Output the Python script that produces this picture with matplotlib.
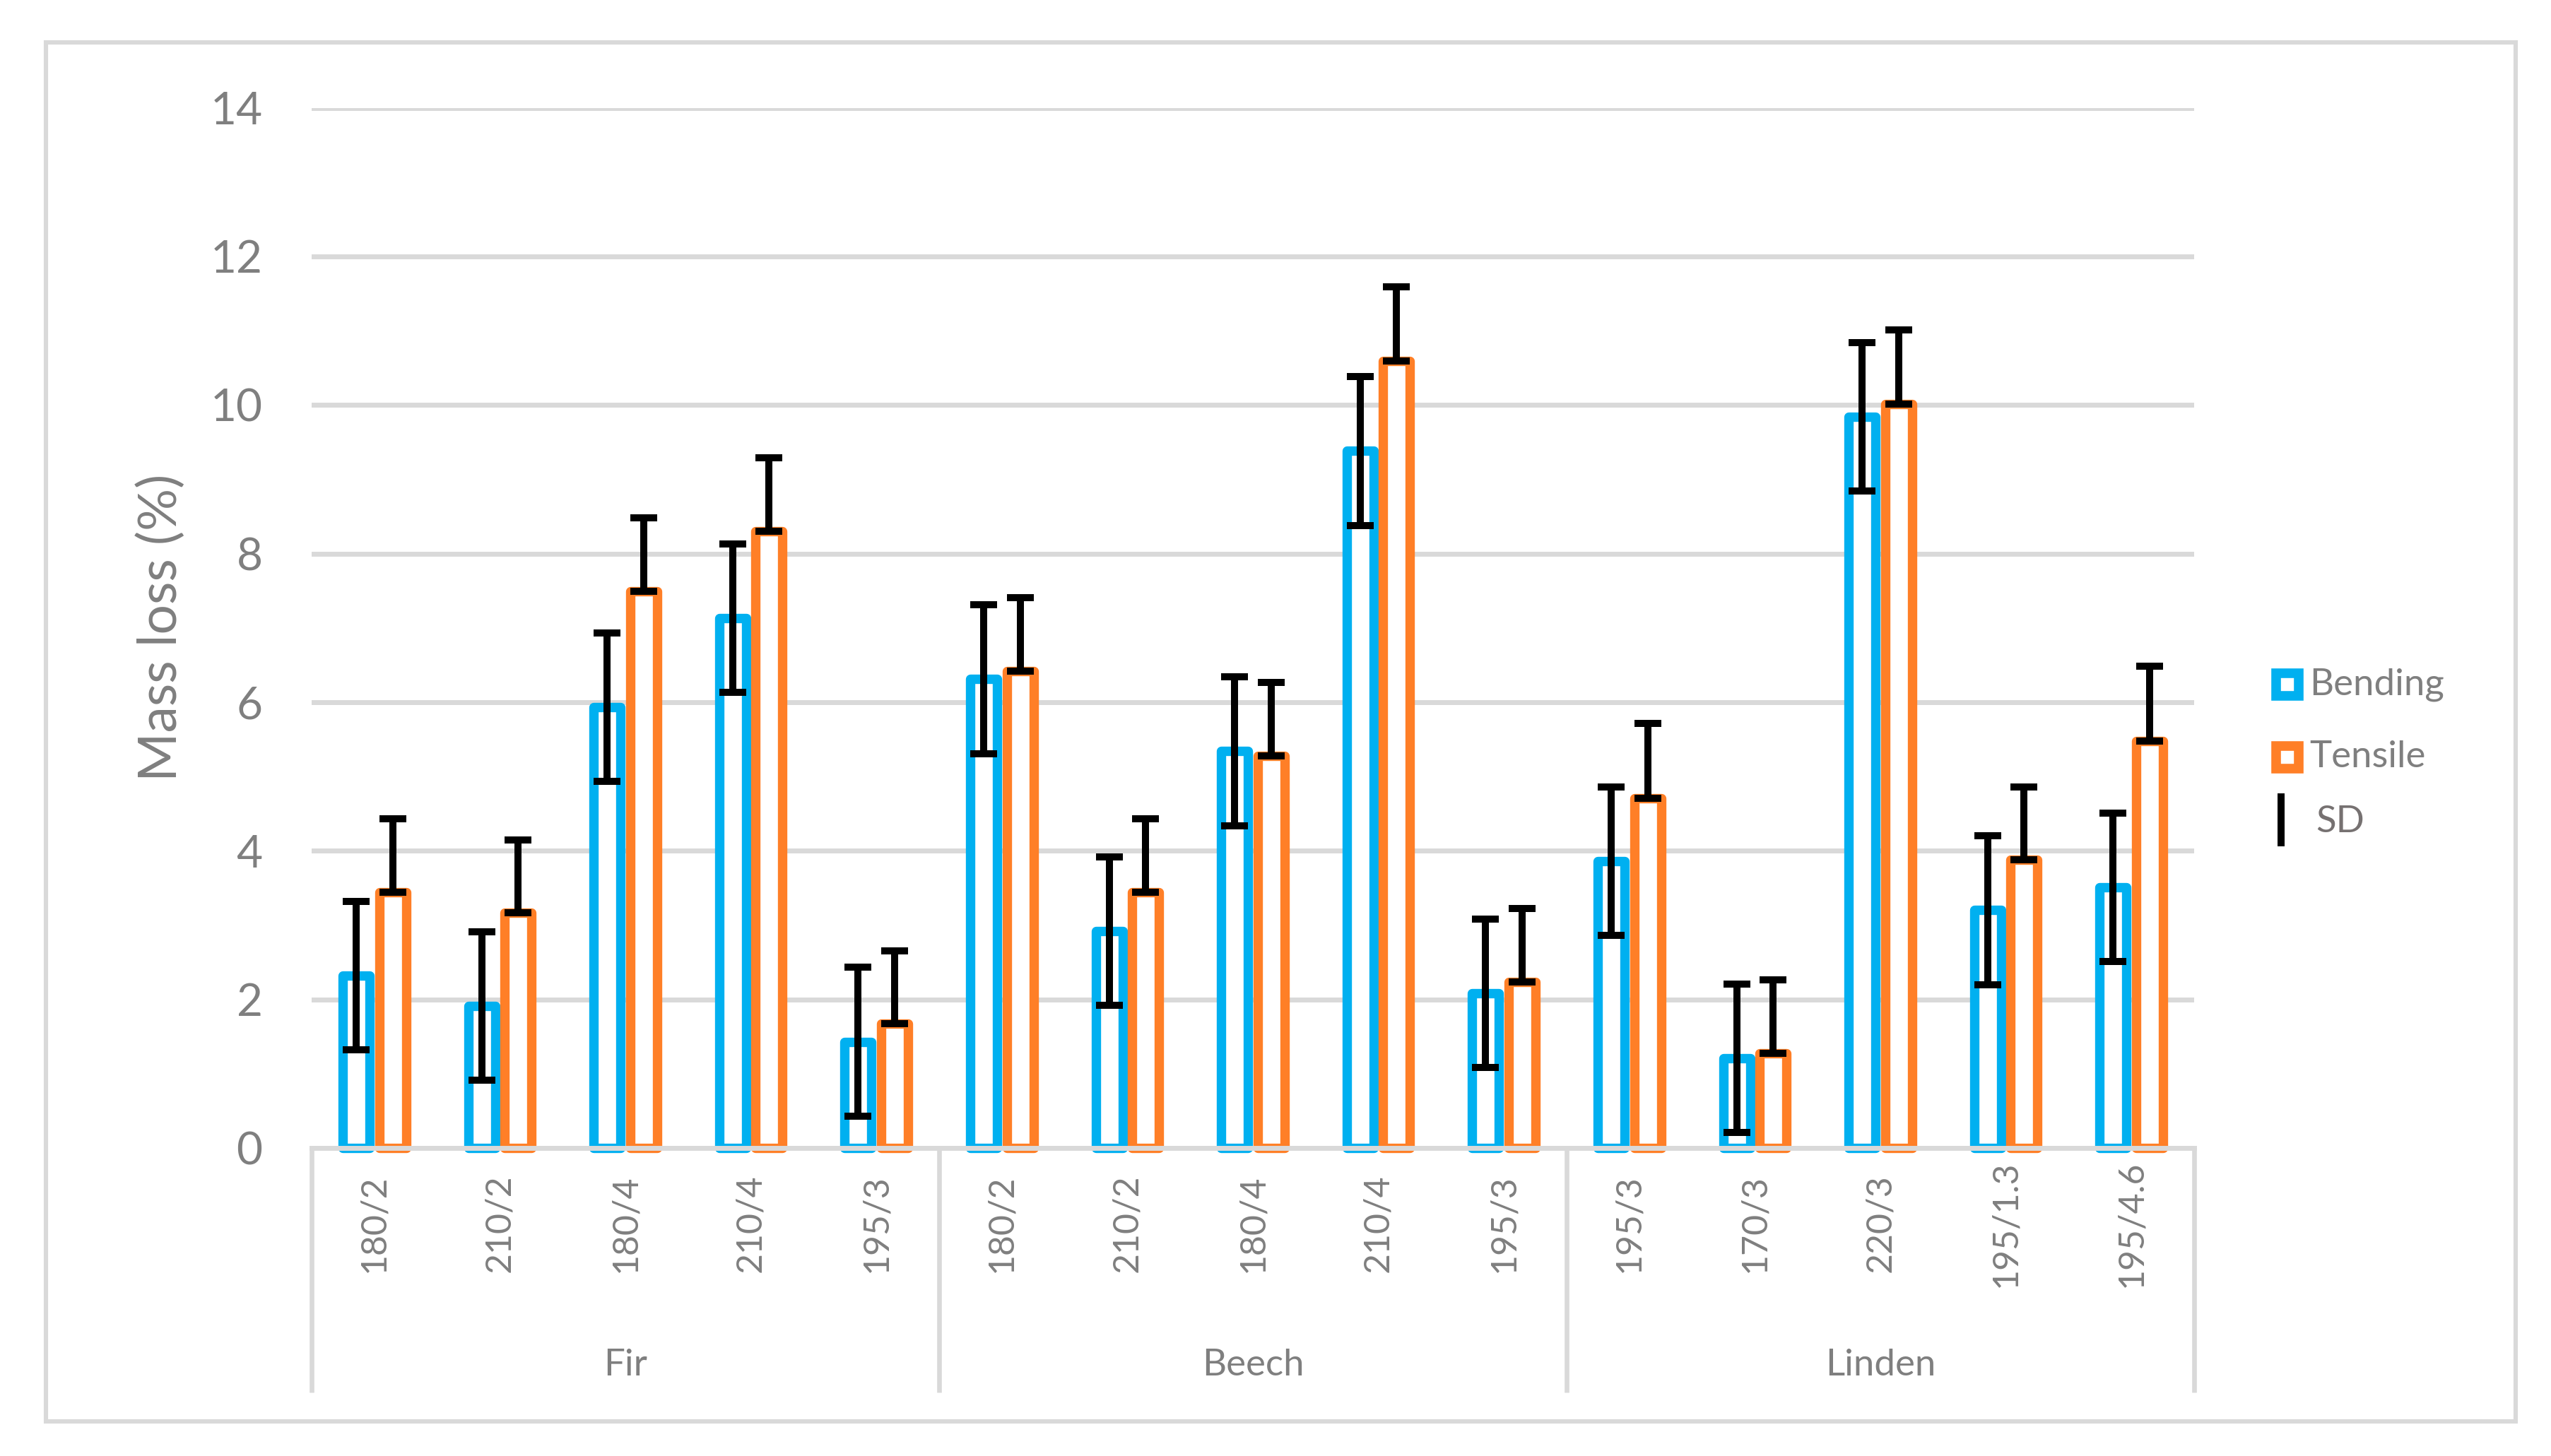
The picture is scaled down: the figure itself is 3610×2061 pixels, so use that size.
import numpy as np
import matplotlib
matplotlib.use("Agg")
import matplotlib.pyplot as plt
from matplotlib.lines import Line2D
from matplotlib.patches import Rectangle

plt.rcParams['font.family'] = ['Lato', 'DejaVu Sans']

groups = ["Fir", "Beech", "Linden"]
group_sizes = [5, 5, 5]
categories = ["180/2", "210/2", "180/4", "210/4", "195/3",
              "180/2", "210/2", "180/4", "210/4", "195/3",
              "195/3", "170/3", "220/3", "195/1.3", "195/4.6"]
bending = [2.32, 1.91, 5.93, 7.13, 1.43,
           6.31, 2.92, 5.34, 9.38, 2.08,
           3.86, 1.21, 9.84, 3.20, 3.51]
tensile = [3.44, 3.17, 7.49, 8.30, 1.67,
           6.42, 3.44, 5.28, 10.59, 2.23,
           4.71, 1.27, 10.01, 3.88, 5.48]
bending_sd = [1.0] * 15
tensile_sd = [0.99, 0.98, 0.99, 0.99, 0.98,
              0.99, 0.99, 0.99, 1.0, 0.99,
              1.0, 0.99, 1.0, 0.98, 1.0]
legend_labels = ["Bending", "Tensile", "SD"]

blue = '#00B0F0'
orange = '#FF7F27'
gray_txt = '#7F7F7F'
grid_c = '#D9D9D9'

W, H = 3610, 2061
fig = plt.figure(figsize=(W / 200, H / 200), dpi=200)
ax = fig.add_axes([441 / W, (H - 1625) / H, 2664 / W, 1472.5 / H])

x = np.arange(len(categories))
off = 0.145
w = 0.214
lw = 4.8

ax.bar(x - off, bending, w, facecolor='white', edgecolor=blue, linewidth=lw,
       joinstyle='round', clip_on=False, zorder=2)
ax.bar(x + off, tensile, w, facecolor='white', edgecolor=orange, linewidth=lw,
       joinstyle='round', clip_on=False, zorder=2)

ax.errorbar(x - off, bending, yerr=bending_sd, fmt='none', ecolor='black',
            elinewidth=3.6, capsize=7.0, capthick=3.6, zorder=4)
ax.errorbar(x + off, tensile, yerr=[[0] * 15, tensile_sd], fmt='none', ecolor='black',
            elinewidth=3.6, capsize=7.0, capthick=3.6, zorder=4)

ax.set_xlim(-0.5, len(categories) - 0.5)
ax.set_ylim(0, 14)
ax.set_yticks(np.arange(0, 15, 2))
ax.yaxis.grid(True, color=grid_c, linewidth=2.5)
ax.set_axisbelow(True)
ax.tick_params(axis='y', length=0, pad=25, labelsize=23, labelcolor=gray_txt)
ax.set_xticks([])
for s in ['top', 'right', 'left', 'bottom']:
    ax.spines[s].set_visible(False)
ax.axhline(0, color=grid_c, linewidth=2.5, zorder=3, clip_on=False)

trans = ax.get_xaxis_transform()
for i, c in enumerate(categories):
    ax.text(i, -0.0727, c, rotation=90, ha='center', va='center',
            fontsize=18, color=gray_txt, transform=trans)

start = 0
edges = [-0.5]
for g, n in zip(groups, group_sizes):
    ax.text(start + (n - 1) / 2, -0.2186, g, ha='center', va='baseline',
            fontsize=19, color=gray_txt, transform=trans)
    start += n
    edges.append(start - 0.5)
for e in edges:
    ax.plot([e, e], [0, -0.235], color=grid_c, linewidth=2.4,
            transform=trans, clip_on=False, solid_capstyle='butt')

ax.text(-0.080, 0.5, "Mass loss (%)", rotation=90, ha='center', va='center',
        fontsize=27, color=gray_txt, transform=ax.transAxes)

# legend, placed by hand
leg_y = [969, 1072, 1160]
fig.add_artist(Line2D([3237 / W], [1 - leg_y[0] / H], linestyle='none', marker='s',
                      markersize=11.7, markerfacecolor='white', markeredgecolor=blue,
                      markeredgewidth=4.9, transform=fig.transFigure))
fig.add_artist(Line2D([3237 / W], [1 - leg_y[1] / H], linestyle='none', marker='s',
                      markersize=11.7, markerfacecolor='white', markeredgecolor=orange,
                      markeredgewidth=4.9, transform=fig.transFigure))
fig.add_artist(Line2D([3228 / W], [1 - leg_y[2] / H], linestyle='none', marker='|',
                      markersize=27, markeredgecolor='black', markeredgewidth=3.6,
                      transform=fig.transFigure))
fig.text(3268 / W, 1 - leg_y[0] / H, legend_labels[0], ha='left', va='center',
         fontsize=19, color=gray_txt)
fig.text(3268 / W, 1 - leg_y[1] / H, legend_labels[1], ha='left', va='center',
         fontsize=19, color=gray_txt)
fig.text(3277 / W, 1 - (leg_y[2] + 4) / H, legend_labels[2], ha='left', va='center',
         fontsize=19, color='#767171')

fig.patches.append(Rectangle((65 / W, (H - 2012) / H), 3495 / W, 1952 / H,
                             transform=fig.transFigure, fill=False,
                             edgecolor=grid_c, linewidth=2.2))

fig.savefig("out.png", dpi=200)
